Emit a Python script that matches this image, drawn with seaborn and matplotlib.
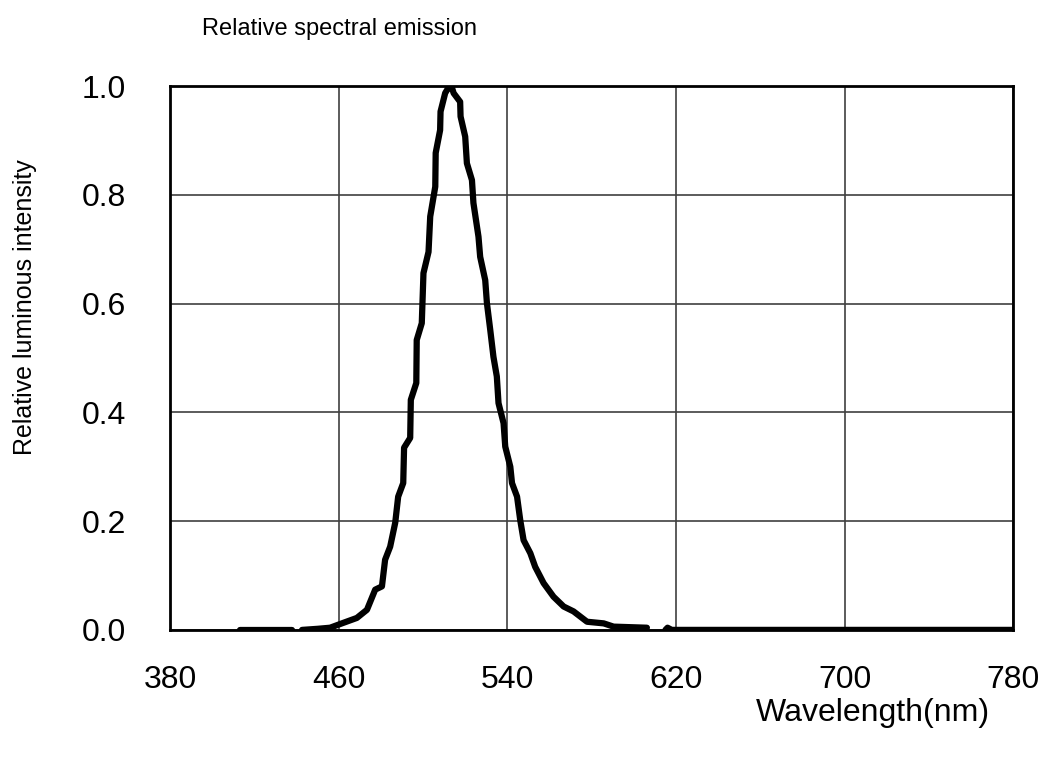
import matplotlib
matplotlib.use("Agg")
import matplotlib.pyplot as plt
import pandas as pd
import seaborn as sns

# spectrum (nm, relative intensity)
wavelength_nm = [
    413, 438,
    442.6, 450, 455.9, 462.2, 468.6, 473.4, 477.3, 480.5, 482, 484.4, 486.8, 488.2,
    490.6, 491, 493.9, 494.2, 496.8, 497, 499.4, 500.2, 502.6, 503.4, 505.8, 506,
    508.1, 508.3, 510.5, 512.5, 513.5, 514.5, 517.6, 517.8, 520, 520.8, 523.2, 523.9,
    526.3, 527.1, 529.5, 530.3, 531.9, 533.4, 535, 535.8, 538.2, 539, 541.4, 542.2,
    544.6, 546.1, 547.7, 550.9, 553.2, 557.2, 561.9, 566.7, 571.4, 577.8, 585.7,
    590.4, 606.2,
    615, 616, 618, 780,
]
intensity = [
    0.0, 0.0,
    0.0, 0.002, 0.004, 0.013, 0.022, 0.037, 0.074, 0.080, 0.129, 0.153, 0.197, 0.245,
    0.270, 0.335, 0.353, 0.423, 0.454, 0.533, 0.564, 0.656, 0.695, 0.760, 0.815, 0.877,
    0.919, 0.953, 0.987, 1.0, 1.0, 0.987, 0.971, 0.944, 0.907, 0.858, 0.827, 0.785,
    0.723, 0.686, 0.643, 0.601, 0.551, 0.502, 0.466, 0.417, 0.380, 0.337, 0.300, 0.270,
    0.245, 0.202, 0.165, 0.141, 0.116, 0.086, 0.061, 0.043, 0.034, 0.015, 0.012,
    0.006, 0.004,
    0.0, 0.004, 0.0, 0.0,
]
segment = [0] * 2 + [1] * 61 + [2] * 4

x_ticks = [380, 460, 540, 620, 700, 780]
y_ticks = [0.0, 0.2, 0.4, 0.6, 0.8, 1.0]

df = pd.DataFrame({"wl": wavelength_nm, "val": intensity, "seg": segment})

sns.set_style("white")
plt.rcParams["font.family"] = ["Liberation Sans", "DejaVu Sans"]
plt.rcParams["text.color"] = "black"
plt.rcParams["xtick.color"] = "black"
plt.rcParams["ytick.color"] = "black"

fig = plt.figure(figsize=(10.5, 7.58), dpi=100)
ax = fig.add_axes([0.162, 0.169, 0.803, 0.7175])

sns.lineplot(data=df, x="wl", y="val", units="seg", estimator=None, sort=False,
             color="black", linewidth=4.5, ax=ax, zorder=3)

ax.set_xlim(380, 780)
ax.set_ylim(0, 1.0)
ax.set_xticks(x_ticks)
ax.set_yticks(y_ticks)
ax.set_xticklabels([str(t) for t in x_ticks])
ax.set_yticklabels([f"{t:.1f}" for t in y_ticks])
ax.grid(True, color="#404040", linewidth=1.2)
for s in ax.spines.values():
    s.set_visible(True)
    s.set_color("black")
    s.set_linewidth(2.0)

ax.tick_params(axis="x", length=0, pad=25, labelsize=23, labelcolor="black")
ax.tick_params(axis="y", direction="in", length=4, width=1.2, pad=32, labelsize=23,
               labelcolor="black")

ax.set_xlabel("")
ax.set_ylabel("")
fig.text(0.943, 0.060, "Wavelength(nm)", fontsize=23, ha="right", va="center")
fig.text(0.024, 0.595, "Relative luminous intensity", fontsize=18, rotation=90,
         ha="center", va="center")
fig.text(0.192, 0.962, "Relative spectral emission", fontsize=17, ha="left", va="center")

fig.savefig("out.png", dpi=100)
